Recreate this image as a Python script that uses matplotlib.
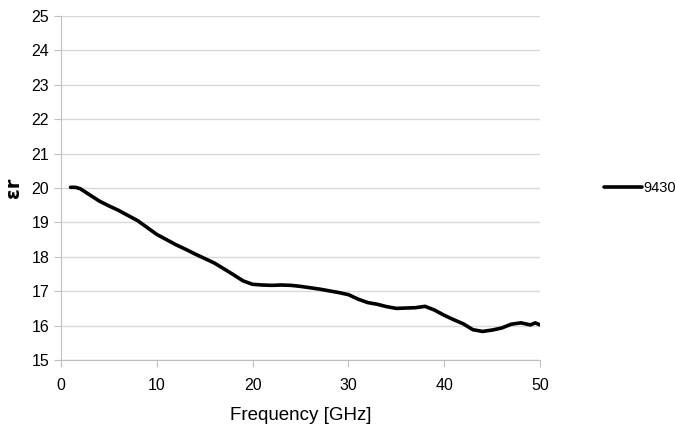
import matplotlib.pyplot as plt
import numpy as np

plt.rcParams['font.family'] = ['Liberation Sans', 'DejaVu Sans']

# frequency in GHz and relative permittivity
freq = [1, 1.5, 2, 3, 4, 5, 6, 7, 8, 9, 10, 11, 12, 13, 14, 15, 16, 17, 18,
        19, 20, 21, 22, 23, 24, 25, 26, 27, 28, 29, 30, 31, 32, 33, 34, 35,
        36, 37, 38, 39, 40, 41, 42, 43, 44, 45, 46, 47, 48, 49, 49.5, 50]
eps_r = [20.02, 20.02, 19.98, 19.8, 19.62, 19.48, 19.35, 19.2, 19.05, 18.85,
         18.65, 18.5, 18.35, 18.22, 18.08, 17.95, 17.82, 17.65, 17.48, 17.3,
         17.2, 17.18, 17.17, 17.18, 17.17, 17.14, 17.1, 17.06, 17.01, 16.96,
         16.9, 16.77, 16.67, 16.62, 16.55, 16.5, 16.51, 16.52, 16.56, 16.45,
         16.3, 16.17, 16.05, 15.88, 15.83, 15.87, 15.93, 16.04, 16.08, 16.02,
         16.08, 16.02]
series_name = '9430'

fig = plt.figure(figsize=(6.75, 4.41), dpi=100)
ax = fig.add_axes([0.0904, 0.1837, 0.7096, 0.78])

ax.plot(freq, eps_r, color='black', lw=2.6, label=series_name, solid_capstyle='round')

ax.set_xlim(0, 50)
ax.set_ylim(15, 25)
ax.set_xticks(np.arange(0, 51, 10))
ax.set_yticks(np.arange(15, 26, 1))
ax.grid(True, axis='y', color='#d9d9d9', lw=1)
ax.set_axisbelow(True)
for s in ['top', 'right']:
    ax.spines[s].set_visible(False)
for s in ['left', 'bottom']:
    ax.spines[s].set_color('#bfbfbf')
ax.tick_params(axis='both', colors='#bfbfbf', labelcolor='black', labelsize=11.5, length=5)
ax.tick_params(axis='x', pad=8)

ax.set_xlabel('Frequency [GHz]', fontsize=13.5, labelpad=10)
ax.set_ylabel('εr', fontsize=14, fontweight='bold', labelpad=6, family=['DejaVu Sans'])

ax.legend(loc='center left', bbox_to_anchor=(1.122, 0.5), frameon=False,
          fontsize=10.5, handlelength=2.6, handletextpad=0.1, borderaxespad=0)

fig.savefig('out.png', dpi=100)
